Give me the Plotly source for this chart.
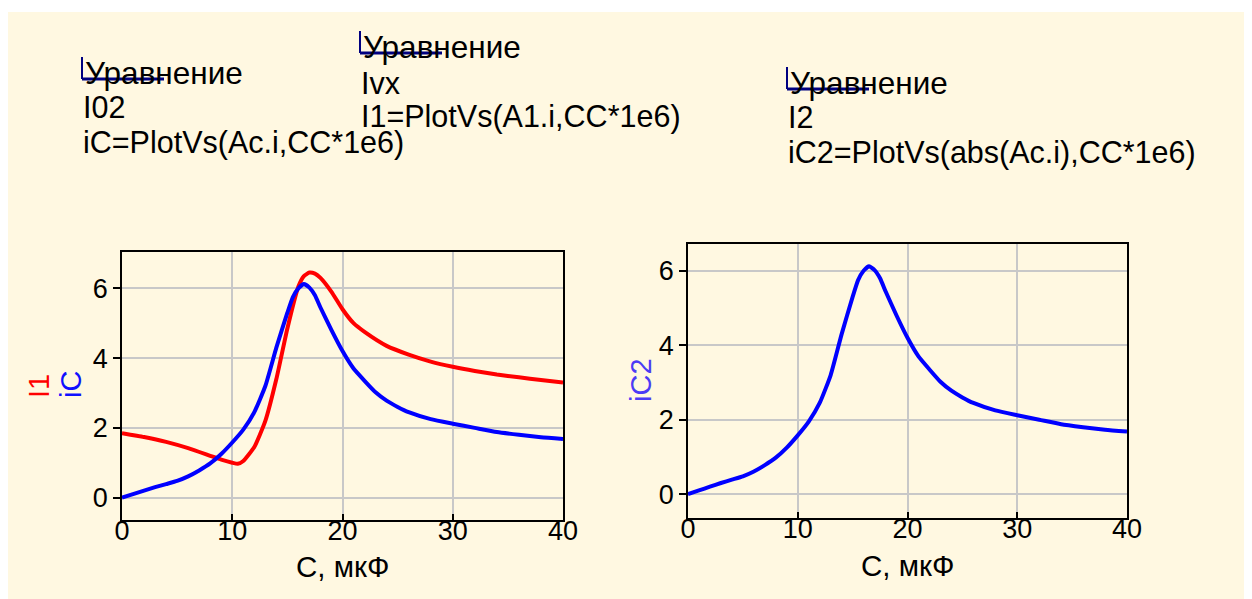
import plotly.graph_objects as go

W, H = 1252, 599
OFF = 8  # page offset of the figure (body margin)

# ---- data ----
c_ic = [0, 1, 2, 3, 4, 5, 6, 7, 8, 9, 10, 11, 12, 13, 14, 15, 15.5, 16, 16.5, 17, 17.5, 18, 19, 20, 21, 22, 23, 24, 25, 26, 28, 30, 32, 34, 36, 38, 40]
ic = [0, 0.1, 0.2, 0.3, 0.39, 0.48, 0.61, 0.78, 0.98, 1.25, 1.58, 1.95, 2.45, 3.2, 4.3, 5.3, 5.75, 6.0, 6.12, 6.02, 5.8, 5.45, 4.8, 4.2, 3.7, 3.35, 3.02, 2.78, 2.6, 2.45, 2.25, 2.12, 2.0, 1.88, 1.8, 1.73, 1.68]

c_i1 = [0, 2, 4, 6, 8, 9, 10, 10.5, 11, 12, 13, 14, 15, 16, 16.5, 17, 17.5, 18, 19, 20, 21, 22, 24, 26, 28, 30, 32, 34, 36, 38, 40]
i1 = [1.85, 1.74, 1.6, 1.42, 1.2, 1.09, 1.0, 0.97, 1.05, 1.45, 2.2, 3.4, 4.85, 6.05, 6.35, 6.45, 6.42, 6.3, 5.9, 5.4, 5.0, 4.75, 4.35, 4.1, 3.9, 3.75, 3.63, 3.53, 3.45, 3.37, 3.3]

x_ticks = [0, 10, 20, 30, 40]
y_ticks = [0, 2, 4, 6]

cream = "#FFF8E1"
font_family = "Liberation Sans, Arial, sans-serif"


def px_x(p):
    # reference page pixel -> paper fraction
    return (p - OFF) / W


def px_y(p):
    return 1 - (p - OFF) / H


fig = go.Figure()

line_kw = dict(width=4, shape="spline", smoothing=0.5)
fig.add_trace(go.Scatter(x=c_i1, y=i1, mode="lines", line=dict(color="#FF0000", **line_kw),
                         xaxis="x", yaxis="y", name="I1"))
fig.add_trace(go.Scatter(x=c_ic, y=ic, mode="lines", line=dict(color="#0000FF", **line_kw),
                         xaxis="x", yaxis="y", name="iC"))
fig.add_trace(go.Scatter(x=c_ic, y=ic, mode="lines", line=dict(color="#0000FF", **line_kw),
                         xaxis="x2", yaxis="y2", name="iC2"))

axis_common = dict(
    showline=True, mirror=True, linecolor="#000000", linewidth=1.5,
    showgrid=True, gridcolor="#C8C8C8", gridwidth=1.5,
    tickcolor="#000000", tickwidth=1.5,
    zeroline=False, automargin=False,
    tickfont=dict(family=font_family, size=27, color="#000000"),
)
x_common = dict(range=[0, 40], tickvals=x_ticks, ticks="inside", ticklen=6, ticklabelstandoff=-14, **axis_common)
y_common = dict(tickvals=y_ticks, ticks="outside", ticklen=7, **axis_common)

fig.update_layout(
    width=W, height=H,
    margin=dict(l=0, r=0, t=0, b=0, autoexpand=False),
    paper_bgcolor="#FFFFFF",
    plot_bgcolor=cream,
    showlegend=False,
    font=dict(family=font_family, size=27, color="#000000"),
    xaxis=dict(domain=[px_x(122), px_x(563)], anchor="y", **x_common),
    yaxis=dict(domain=[px_y(520), px_y(252)], range=[-0.64, 7.04], anchor="x", **y_common),
    xaxis2=dict(domain=[px_x(688), px_x(1127)], anchor="y2", **x_common),
    yaxis2=dict(domain=[px_y(518), px_y(244)], range=[-0.64, 6.72], anchor="x2", **y_common),
)

# cream page background
shapes = [dict(type="rect", xref="paper", yref="paper", x0=0, x1=1, y0=0, y1=px_y(12),
               fillcolor=cream, line=dict(width=0), layer="below")]

annotations = []

# axis titles
for cx, cy in [(342, 566), (907, 565)]:
    annotations.append(dict(x=px_x(cx), y=px_y(cy), xref="paper", yref="paper", showarrow=False,
                            xanchor="center", yanchor="middle", text="C, мкФ",
                            font=dict(family=font_family, size=29.5, color="#000000")))
for cx, cy, txt, col in [(39, 386, "I1", "#FF0000"), (71, 385, "iC", "#1010FF"), (641, 380, "iC2", "#4B3BF5")]:
    annotations.append(dict(x=px_x(cx), y=px_y(cy), xref="paper", yref="paper", showarrow=False,
                            xanchor="center", yanchor="middle", text=txt, textangle=-90,
                            font=dict(family=font_family, size=29, color=col)))

# equation blocks: (left x, [line center ys], lines)
blocks = [
    (82, [73, 107, 142], ["Уравнение", "I02", "iC=PlotVs(Ac.i,CC*1e6)"]),
    (360, [47, 83, 117], ["Уравнение", "Ivx", "I1=PlotVs(A1.i,CC*1e6)"]),
    (787, [83, 117, 152], ["Уравнение", "I2", "iC2=PlotVs(abs(Ac.i),CC*1e6)"]),
]
for bx, ys, lines in blocks:
    for k, (yy, txt) in enumerate(zip(ys, lines)):
        annotations.append(dict(
            x=px_x(bx + (1 if k == 0 else -1)), y=px_y(yy), xref="paper", yref="paper",
            xanchor="left", yanchor="middle", showarrow=False, text=txt,
            font=dict(family=font_family, size=(31.5 if k == 0 else 30.5), color="#000000")))
    # block marker: navy L shape over the first word
    y0 = ys[0]
    shapes.append(dict(type="line", xref="paper", yref="paper",
                       x0=px_x(bx), x1=px_x(bx), y0=px_y(y0 - 16), y1=px_y(y0 + 6),
                       line=dict(color="#000080", width=2)))
    shapes.append(dict(type="line", xref="paper", yref="paper",
                       x0=px_x(bx), x1=px_x(bx + 82), y0=px_y(y0 + 6), y1=px_y(y0 + 6),
                       line=dict(color="#000080", width=3)))

fig.update_layout(shapes=shapes, annotations=annotations)

fig.write_html("out.html")
